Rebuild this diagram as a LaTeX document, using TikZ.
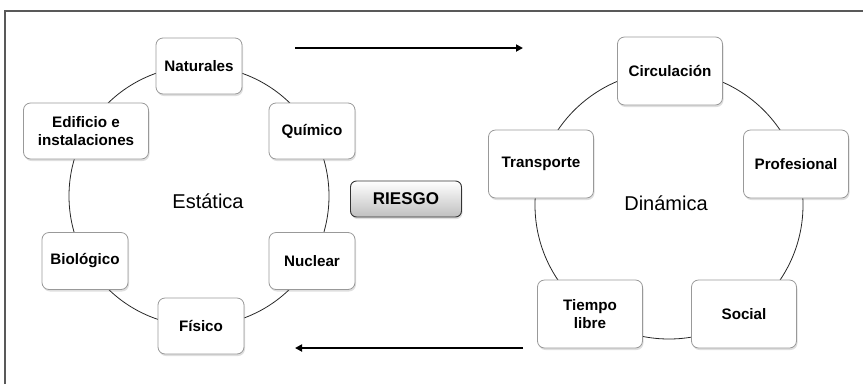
\documentclass[tikz,border=0pt]{standalone}
\usepackage{fontspec}
\setmainfont{Liberation Sans}
\usetikzlibrary{shadows,arrows.meta}
\begin{document}
\begin{tikzpicture}[x=1pt,y=-1pt,
  item/.style={draw=black!40, line width=0.8pt, fill=white, rounded corners=7pt,
    align=center, inner sep=0pt,
    font=\bfseries\fontsize{15.2}{17.3}\selectfont,
    drop shadow={opacity=0.25, shadow xshift=1pt, shadow yshift=-2pt}},
  lbox/.style={item, minimum width=86pt, minimum height=56pt},
  rbox/.style={item, minimum width=105pt, minimum height=68pt},
  ring/.style={draw=black!85, line width=0.8pt},
  title/.style={font=\fontsize{20}{24}\selectfont},
  flow/.style={draw=black, line width=2pt, -{Triangle[length=7pt,width=7pt]}}]
\useasboundingbox (0,0) rectangle (863,384);
\draw[black!65, line width=1.5pt] (5,384) -- (5,11) -- (863,11);
% left ring
\coordinate (lc) at (199,196);
\draw[ring] (lc) circle[radius=130];
\node[lbox] (nat) at (199,66) {Naturales};
\node[lbox, minimum width=125pt] (edi) at (86,131) {Edificio e\\instalaciones};
\node[lbox] (qui) at (312,131) {Químico};
\node[lbox, minimum height=57pt] (bio) at (85,261) {Biológico};
\node[lbox, minimum height=57pt] (nuc) at (312,261) {Nuclear};
\node[lbox] (fis) at (201,326) {Físico};
\node[title] (est) at (208,201) {Estática};
% right ring
\coordinate (rc) at (669,205);
\draw[ring] (rc) circle[radius=134];
\node[rbox] (cir) at (670,71) {Circulación};
\node[rbox] (tra) at (541,164) {Transporte};
\node[rbox] (pro) at (796,164) {Profesional};
\node[rbox] (tie) at (590,314) {Tiempo\\libre};
\node[rbox] (soc) at (744,314) {Social};
\node[title] (din) at (666,203) {Dinámica};
% center
\node[draw=black!80, line width=0.9pt, rounded corners=6pt,
  top color=white, bottom color=black!25,
  minimum width=111pt, minimum height=36pt, inner sep=0pt,
  font=\bfseries\fontsize{17}{20}\selectfont,
  drop shadow={opacity=0.25, shadow xshift=1pt, shadow yshift=-2pt}] (rie) at (406,199) {RIESGO};
% arrows
\coordinate (a1) at (295,48);
\coordinate (a2) at (523,48);
\coordinate (b1) at (523,348);
\coordinate (b2) at (295,348);
\draw[flow] (a1) -- (a2);
\draw[flow] (b1) -- (b2);
\end{tikzpicture}
\end{document}
